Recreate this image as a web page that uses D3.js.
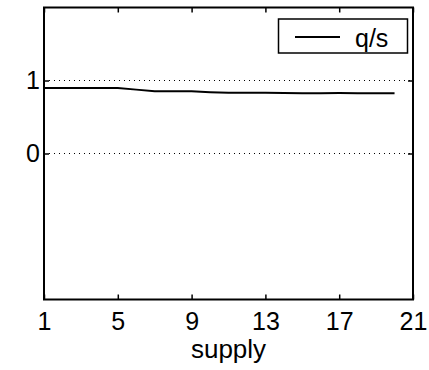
<!DOCTYPE html>
<html>
<head>
<meta charset="utf-8">
<script src="https://cdn.jsdelivr.net/npm/d3@7"></script>
<style>
  html, body { margin: 0; padding: 0; background: #fff; }
  svg { display: block; }
  text { font-family: "Liberation Sans", Arial, Helvetica, sans-serif; fill: #000; }
</style>
</head>
<body>
<svg id="chart" width="429" height="370"></svg>
<script>
// supply levels and the q/s ratio measured at each
const supply = [1, 2, 3, 4, 5, 6, 7, 8, 9, 10, 11, 12, 13, 14, 15, 16, 17, 18, 19, 20];
const qOverS = [0.897, 0.897, 0.897, 0.897, 0.896, 0.875, 0.853, 0.852, 0.852, 0.840,
                0.833, 0.833, 0.832, 0.830, 0.826, 0.826, 0.828, 0.827, 0.826, 0.825];
const xTicks = [1, 5, 9, 13, 17, 21];
const yTicks = [0, 1];
const seriesName = "q/s";
const xLabel = "supply";

const svg = d3.select("#chart");
const plotL = 44, plotR = 413, plotT = 7.5, plotB = 299.5;

const x = d3.scaleLinear().domain([1, 21]).range([plotL, plotR]);
const y = d3.scaleLinear().domain([-2, 2]).range([plotB, plotT]);

// dotted grid at the y ticks
svg.append("g").selectAll("line").data(yTicks).join("line")
  .attr("x1", plotL).attr("x2", plotR)
  .attr("y1", d => y(d)).attr("y2", d => y(d))
  .attr("stroke", "#000").attr("stroke-width", 1)
  .attr("stroke-dasharray", "1,4");

// the series line
svg.append("path")
  .datum(supply.map((s, i) => [s, qOverS[i]]))
  .attr("fill", "none").attr("stroke", "#000").attr("stroke-width", 2)
  .attr("d", d3.line().x(d => x(d[0])).y(d => y(d[1])));

// axes with inward ticks on all four sides
const tickLen = 5;
const fs = 25;
const bottomAxis = d3.axisBottom(x).tickValues(xTicks).tickSize(-tickLen).tickPadding(13).tickFormat(d3.format("d"));
const topAxis = d3.axisTop(x).tickValues(xTicks).tickSize(-tickLen).tickFormat("");
const leftAxis = d3.axisLeft(y).tickValues(yTicks).tickSize(-tickLen).tickPadding(4).tickFormat(d3.format("d"));
const rightAxis = d3.axisRight(y).tickValues(yTicks).tickSize(-tickLen).tickFormat("");

function style(g) {
  g.select(".domain").remove();
  g.selectAll(".tick line").attr("stroke", "#000").attr("stroke-width", 1.5);
  g.selectAll("text").attr("font-size", fs).attr("fill", "#000")
    .style("font-family", "'Liberation Sans', Arial, sans-serif");
}
svg.append("g").attr("transform", `translate(0,${plotB})`).call(bottomAxis).call(style);
svg.append("g").attr("transform", `translate(0,${plotT})`).call(topAxis).call(style);
svg.append("g").attr("transform", `translate(${plotL},0)`).call(leftAxis).call(style);
svg.append("g").attr("transform", `translate(${plotR},0)`).call(rightAxis).call(style);

// plot frame
svg.append("rect")
  .attr("x", plotL).attr("y", plotT)
  .attr("width", plotR - plotL).attr("height", plotB - plotT)
  .attr("fill", "none").attr("stroke", "#000").attr("stroke-width", 2);

// x axis title
svg.append("text")
  .attr("x", (plotL + plotR) / 2).attr("y", 358)
  .attr("text-anchor", "middle").attr("font-size", 26)
  .text(xLabel);

// legend
const lg = svg.append("g");
lg.append("rect").attr("x", 278.5).attr("y", 19).attr("width", 129).attr("height", 34)
  .attr("fill", "#fff").attr("stroke", "#000").attr("stroke-width", 1.5);
lg.append("line").attr("x1", 295).attr("x2", 340).attr("y1", 37).attr("y2", 37)
  .attr("stroke", "#000").attr("stroke-width", 2);
lg.append("text").attr("x", 355).attr("y", 47).attr("font-size", fs).text(seriesName);
</script>
</body>
</html>
